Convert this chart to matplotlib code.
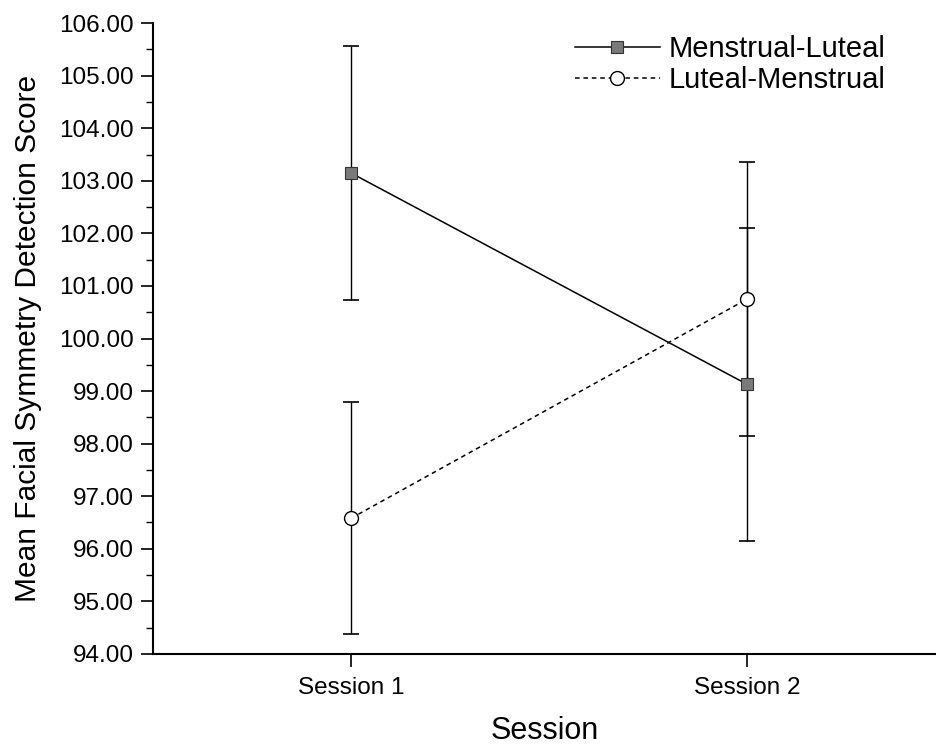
import matplotlib
matplotlib.use("Agg")
import matplotlib.pyplot as plt
from matplotlib.ticker import MultipleLocator, FormatStrFormatter

plt.rcParams['font.family'] = ['Liberation Sans', 'DejaVu Sans']

sessions = ['Session 1', 'Session 2']
x = [1, 2]

ml_mean = [103.15, 99.13]
ml_err = [2.41, 2.98]
lm_mean = [96.58, 100.75]
lm_err = [2.21, 2.60]

fig = plt.figure(figsize=(9.36, 7.49), dpi=100)
ax = fig.add_axes([0.1635, 0.127, 0.8365, 0.842])

ax.errorbar(x, ml_mean, yerr=ml_err, fmt='none', ecolor='black',
            elinewidth=1.0, capsize=6, capthick=1.2, zorder=2)
ax.errorbar(x, lm_mean, yerr=lm_err, fmt='none', ecolor='black',
            elinewidth=1.0, capsize=6, capthick=1.2, zorder=2)

ax.plot(x, ml_mean, '-', color='black', lw=1.1, marker='s', markersize=9,
        markerfacecolor='#7a7a7a', markeredgecolor='#333333', markeredgewidth=0.8,
        label='Menstrual-Luteal', zorder=3)
ax.plot(x, lm_mean, color='black', lw=1.1, linestyle=(0, (3, 2.5)), marker='o',
        markersize=10, markerfacecolor='white', markeredgecolor='black',
        markeredgewidth=1.0, label='Luteal-Menstrual', zorder=3)

ax.set_xlim(0.5, 0.5 + (936 - 153) / 396)
ax.set_ylim(94, 106)
ax.yaxis.set_major_locator(MultipleLocator(1))
ax.yaxis.set_minor_locator(MultipleLocator(0.5))
ax.yaxis.set_major_formatter(FormatStrFormatter('%.2f'))
ax.set_xticks(x)
ax.set_xticklabels(sessions)

for side in ['top', 'right']:
    ax.spines[side].set_visible(False)
ax.spines['left'].set_linewidth(1.5)
ax.spines['bottom'].set_linewidth(1.5)

ax.tick_params(axis='y', which='major', direction='out', length=9, width=1.2,
               labelsize=17.5, pad=5)
ax.tick_params(axis='y', which='minor', direction='out', length=5, width=1.0)
ax.tick_params(axis='x', which='major', direction='out', length=9, width=1.2,
               labelsize=17.5, pad=8)

ax.set_xlabel('Session', fontsize=22, labelpad=12)
ax.set_ylabel('Mean Facial Symmetry Detection Score', fontsize=21.5, labelpad=12)

leg = ax.legend(loc='upper right', bbox_to_anchor=(0.95, 1.0), frameon=False,
                fontsize=21, handlelength=2.9, handletextpad=0.3,
                labelspacing=0.1, borderaxespad=0.0)

fig.savefig('out.png', dpi=100)
